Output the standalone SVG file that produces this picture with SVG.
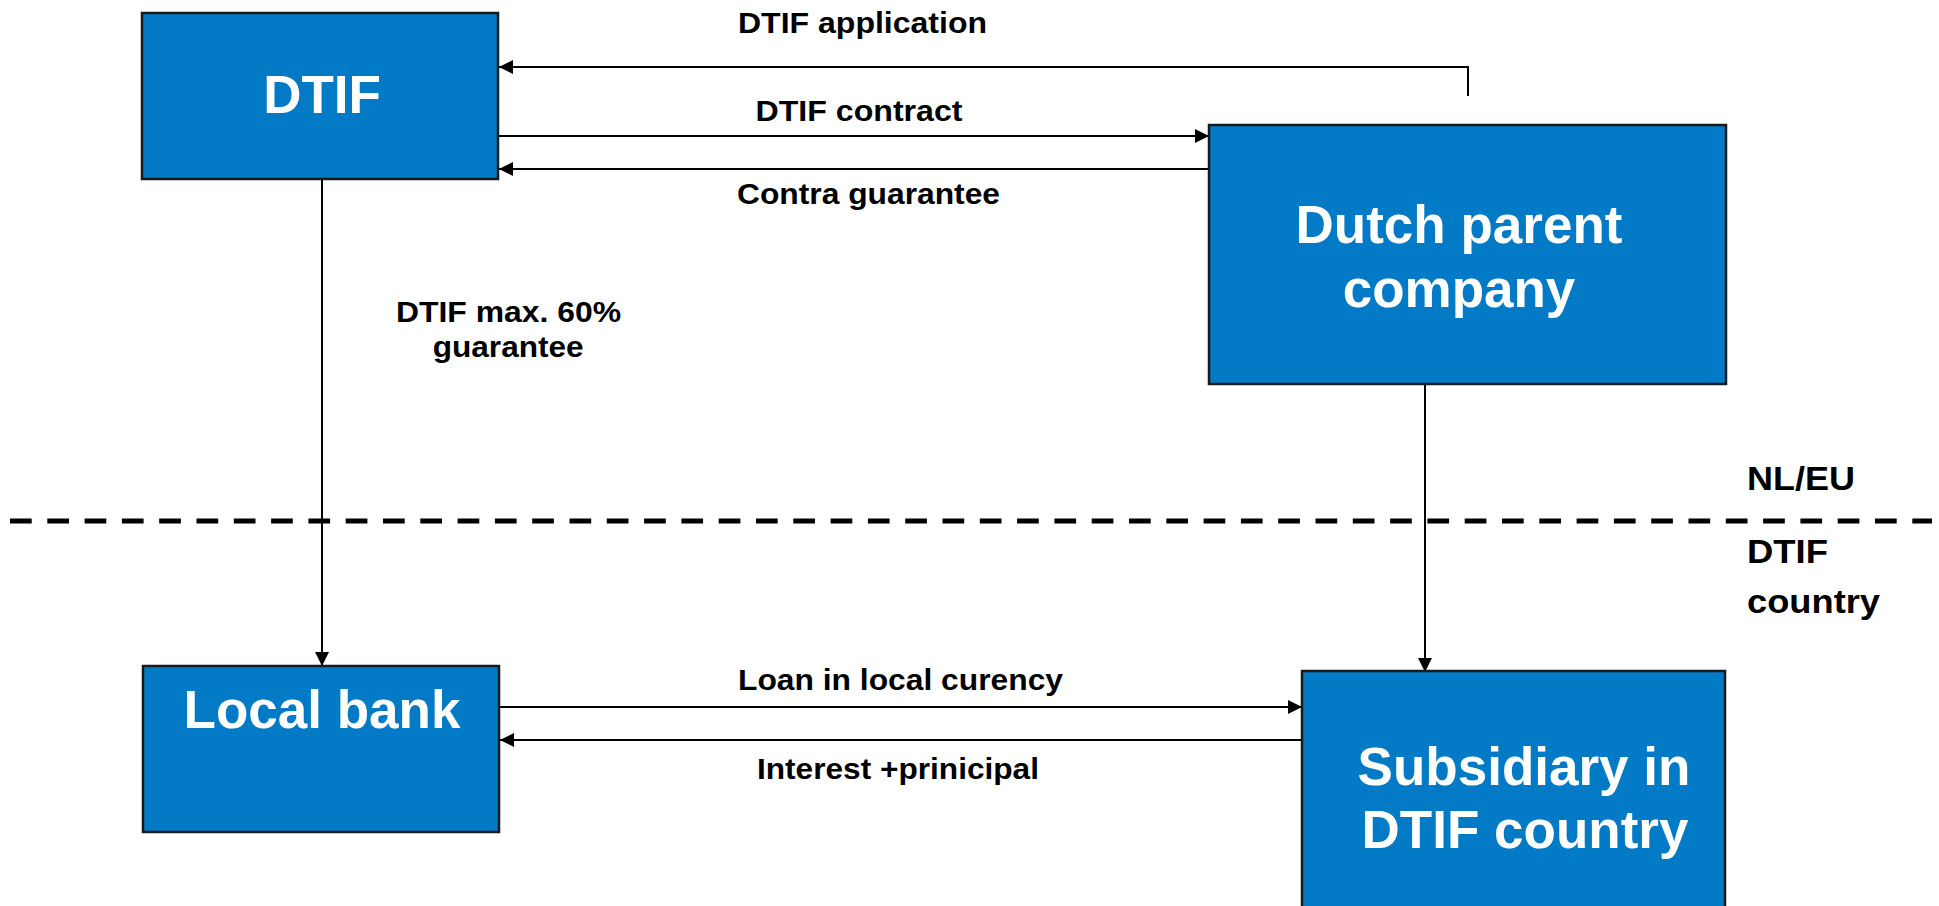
<svg xmlns="http://www.w3.org/2000/svg" width="1939" height="906" viewBox="0 0 1939 906">
<style>
.box{fill:#027AC6;stroke:#1a1a1a;stroke-width:2.5}
.bt{font-family:"Liberation Sans",Arial,sans-serif;font-weight:bold;font-size:53px;fill:#fff;text-anchor:middle}
.lb{font-family:"Liberation Sans",Arial,sans-serif;font-weight:bold;font-size:29px;fill:#000}
.side{font-family:"Liberation Sans",Arial,sans-serif;font-weight:bold;font-size:33px;fill:#000}
.c{fill:none;stroke:#000;stroke-width:2}
</style>
<defs>
<marker id="ah" markerUnits="userSpaceOnUse" markerWidth="14" markerHeight="14" refX="14" refY="7" orient="auto" viewBox="0 0 14 14">
<path d="M0,0 L14,7 L0,14 z" fill="#000"/>
</marker>
</defs>
<rect width="1939" height="906" fill="#fff"/>
<line x1="10" y1="521" x2="1932" y2="521" stroke="#000" stroke-width="5" stroke-dasharray="21.7 15.6"/>
<g id="connectors">
<polyline class="c" points="1468,96 1468,67 499,67" marker-end="url(#ah)"/>
<line class="c" x1="498" y1="136" x2="1209" y2="136" marker-end="url(#ah)"/>
<line class="c" x1="1209" y1="169" x2="499" y2="169" marker-end="url(#ah)"/>
<line class="c" x1="322" y1="179" x2="322" y2="666" marker-end="url(#ah)"/>
<line class="c" x1="1425" y1="384" x2="1425" y2="672" marker-end="url(#ah)"/>
<line class="c" x1="499" y1="707" x2="1302" y2="707" marker-end="url(#ah)"/>
<line class="c" x1="1302" y1="740" x2="500" y2="740" marker-end="url(#ah)"/>
</g>
<g id="node-dtif">
<rect class="box" x="142" y="13" width="356" height="166"/>
<text class="bt" x="322" y="113">DTIF</text>
</g>
<g id="node-dutch-parent">
<rect class="box" x="1209" y="125" width="517" height="259"/>
<text class="bt" x="1459" y="243">Dutch parent</text>
<text class="bt" x="1459" y="307">company</text>
</g>
<g id="node-local-bank">
<rect class="box" x="143" y="666" width="356" height="166"/>
<text class="bt" x="322" y="728">Local bank</text>
</g>
<g id="node-subsidiary">
<rect class="box" x="1302" y="671" width="423" height="245"/>
<text class="bt" x="1524" y="785">Subsidiary in</text>
<text class="bt" x="1525" y="848">DTIF country</text>
</g>
<g id="labels">
<text class="lb" x="738" y="33" textLength="249" lengthAdjust="spacingAndGlyphs">DTIF application</text>
<text class="lb" x="755.5" y="121" textLength="207" lengthAdjust="spacingAndGlyphs">DTIF contract</text>
<text class="lb" x="737" y="204" textLength="263" lengthAdjust="spacingAndGlyphs">Contra guarantee</text>
<text class="lb" x="396" y="322" textLength="225" lengthAdjust="spacingAndGlyphs">DTIF max. 60%</text>
<text class="lb" x="432.7" y="357" textLength="151" lengthAdjust="spacingAndGlyphs">guarantee</text>
<text class="lb" x="738" y="690" textLength="325" lengthAdjust="spacingAndGlyphs">Loan in local curency</text>
<text class="lb" x="757" y="779" textLength="282" lengthAdjust="spacingAndGlyphs">Interest +prinicipal</text>
<text class="side" x="1747" y="490" textLength="108" lengthAdjust="spacingAndGlyphs">NL/EU</text>
<text class="side" x="1747" y="563" textLength="81" lengthAdjust="spacingAndGlyphs">DTIF</text>
<text class="side" x="1747" y="613" textLength="133" lengthAdjust="spacingAndGlyphs">country</text>
</g>
</svg>
